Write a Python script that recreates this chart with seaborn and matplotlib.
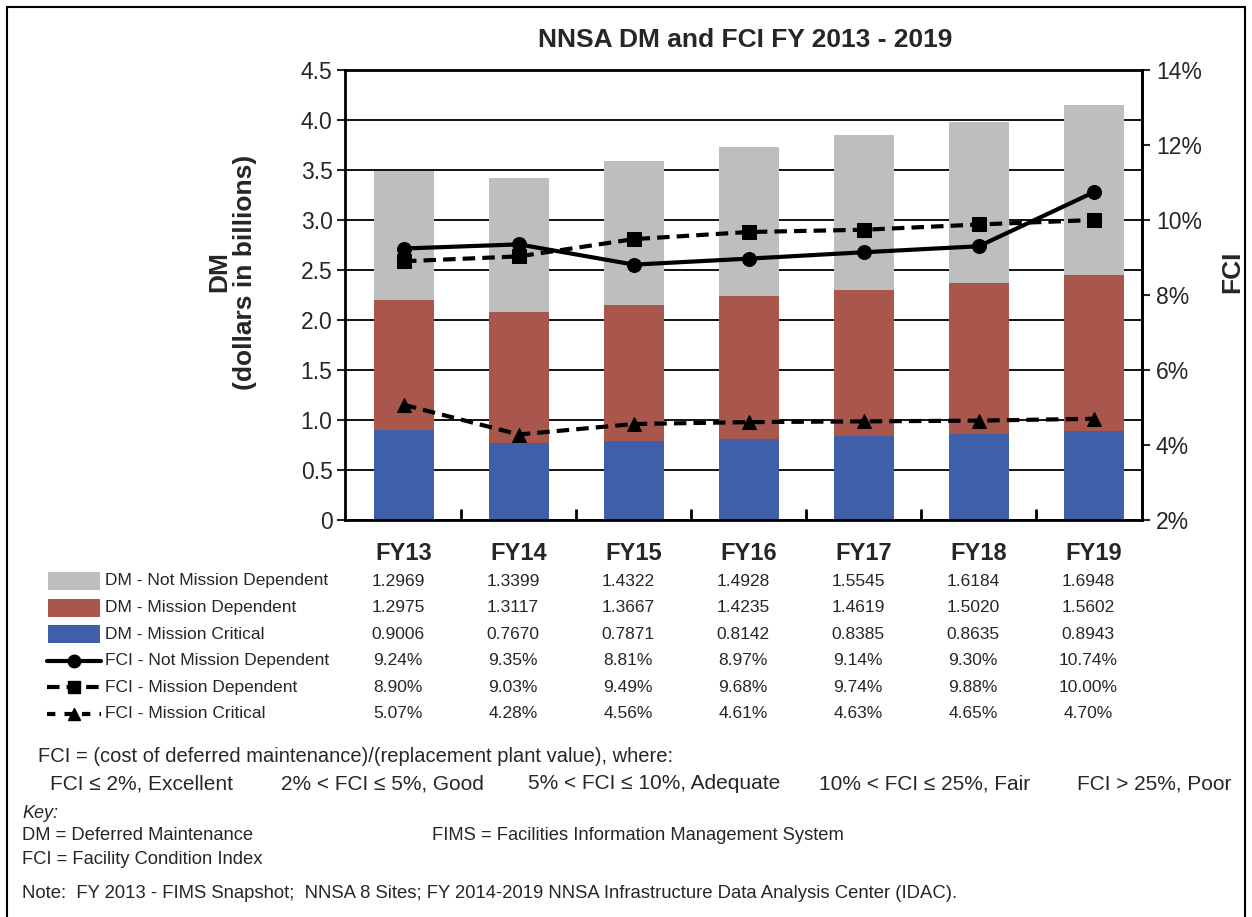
import numpy as np
import pandas as pd
import matplotlib
matplotlib.use("Agg")
import matplotlib.pyplot as plt
import matplotlib.transforms as mtransforms
from matplotlib.lines import Line2D
from matplotlib.patches import Rectangle
import seaborn as sns

# ── Data ─────────────────────────────────────────────────────────────────────
YEARS = ["FY13", "FY14", "FY15", "FY16", "FY17", "FY18", "FY19"]
DM_NOT_MD = [1.2969, 1.3399, 1.4322, 1.4928, 1.5545, 1.6184, 1.6948]
DM_MD = [1.2975, 1.3117, 1.3667, 1.4235, 1.4619, 1.5020, 1.5602]
DM_MC = [0.9006, 0.7670, 0.7871, 0.8142, 0.8385, 0.8635, 0.8943]
FCI_NOT_MD = [9.24, 9.35, 8.81, 8.97, 9.14, 9.30, 10.74]
FCI_MD = [8.90, 9.03, 9.49, 9.68, 9.74, 9.88, 10.00]
FCI_MC = [5.07, 4.28, 4.56, 4.61, 4.63, 4.65, 4.70]

GRAY = "#bcbec0"
RED = "#a9574c"
BLUE = "#3f5fa8"

W, H = 1252, 917
XLIM = (-0.513, 6.42)

sns.set_style("white")
plt.rcParams["font.family"] = ["Liberation Sans", "DejaVu Sans"]

df = pd.DataFrame({"year": YEARS, "mc": DM_MC, "md": DM_MD, "nmd": DM_NOT_MD})
df["h_mc"] = df["mc"]
df["h_md"] = df["mc"] + df["md"]
df["h_all"] = df["mc"] + df["md"] + df["nmd"]

fig = plt.figure(figsize=(W / 100, H / 100), dpi=100)
ax = fig.add_axes([345 / W, 1 - 520 / H, (1142 - 345) / W, 450 / H])

# stacked bars drawn as overlapping cumulative heights
for col, color in [("h_all", GRAY), ("h_md", RED), ("h_mc", BLUE)]:
    sns.barplot(data=df, x="year", y=col, color=color, saturation=1,
                width=0.52, linewidth=0, errorbar=None, ax=ax)

ax.set_xlim(*XLIM)
ax.set_ylim(0, 4.5)
yt = np.arange(0, 4.51, 0.5)
ax.set_yticks(yt)
ax.set_yticklabels(["0" if v == 0 else f"{v:.1f}" for v in yt], fontsize=16.5)
ax.set_axisbelow(True)
ax.yaxis.grid(True, color="black", lw=1.3)
ax.set_xlabel("")
ax.set_ylabel("")
ax.tick_params(axis="y", direction="out", length=6, width=1.5, pad=3, left=True)
ax.tick_params(axis="x", which="major", length=0, pad=16)
# category separators along the bottom axis
ax.set_xticks(np.arange(len(YEARS) - 1) + 0.5, minor=True)
ax.tick_params(axis="x", which="minor", direction="in", length=8, width=2,
               bottom=True, color="black")
for lbl in ax.get_xticklabels():
    lbl.set_fontweight("bold")
    lbl.set_fontsize(17)
for s in ax.spines.values():
    s.set_visible(True)
    s.set_color("black")
    s.set_linewidth(2)

# FCI lines on right axis
ax2 = ax.twinx()
pos = np.arange(len(YEARS))
line_specs = [
    (FCI_NOT_MD, "o", "-", 10),
    (FCI_MD, "s", (0, (3, 1.7)), 9.5),
    (FCI_MC, "^", (0, (3, 1.7)), 10),
]
for vals, mk, ls, ms in line_specs:
    sns.lineplot(x=pos, y=vals, ax=ax2, color="black", lw=3, marker=mk,
                 markersize=ms, markeredgecolor="black", linestyle=ls,
                 legend=False)
ax2.set_ylim(2, 14)
rt = np.arange(2, 14.1, 2)
ax2.set_yticks(rt)
ax2.set_yticklabels([f"{int(v)}%" for v in rt], fontsize=16.5)
ax2.tick_params(axis="y", direction="out", length=6, width=1.5, pad=4, right=True)
ax2.set_ylabel("")
for name, s in ax2.spines.items():
    s.set_visible(name == "right")
    s.set_color("black")
    s.set_linewidth(2)
ax.set_xlim(*XLIM)

# titles / axis labels
fig.text(745 / W, 1 - 40 / H, "NNSA DM and FCI FY 2013 - 2019", ha="center",
         va="center", fontsize=19, fontweight="bold")
fig.text(232 / W, 1 - 272 / H, "DM\n(dollars in billions)", ha="center",
         va="center", rotation=90, fontsize=19, fontweight="bold",
         multialignment="center", linespacing=1.1)
fig.text(1232 / W, 1 - 272 / H, "FCI", ha="center", va="center", rotation=90,
         fontsize=19, fontweight="bold")

# ── Data table under chart ───────────────────────────────────────────────────
trans = mtransforms.blended_transform_factory(ax.transData, fig.transFigure)
rows = [
    ("DM - Not Mission Dependent", DM_NOT_MD, "{:.4f}", ("patch", GRAY)),
    ("DM - Mission Dependent", DM_MD, "{:.4f}", ("patch", RED)),
    ("DM - Mission Critical", DM_MC, "{:.4f}", ("patch", BLUE)),
    ("FCI - Not Mission Dependent", FCI_NOT_MD, "{:.2f}%", ("line", "o", "-")),
    ("FCI - Mission Dependent", FCI_MD, "{:.2f}%", ("line", "s", (0, (3, 1.7)))),
    ("FCI - Mission Critical", FCI_MC, "{:.2f}%", ("line", "^", (0, (2, 2.2)))),
]
row0, step = 581, 26.6
for r, (label, vals, fmt, key) in enumerate(rows):
    yp = row0 + step * r
    yf = 1 - yp / H
    fig.text(105 / W, yf, label, ha="left", va="center", fontsize=12.5)
    for i, v in enumerate(vals):
        ax.text(i - 0.05, yf, fmt.format(v), transform=trans, ha="center",
                va="center", fontsize=12.5)
    if key[0] == "patch":
        fig.patches.append(Rectangle((48 / W, 1 - (yp + 9) / H), 52 / W, 18 / H,
                                     transform=fig.transFigure,
                                     facecolor=key[1], edgecolor="none"))
    else:
        fig.lines.append(Line2D([47 / W, 101 / W], [yf, yf], transform=fig.transFigure,
                                color="black", lw=3, linestyle=key[2]))
        fig.lines.append(Line2D([74 / W], [yf], transform=fig.transFigure,
                                color="black", marker=key[1], markersize=9,
                                linestyle="none"))

# ── Footer notes ─────────────────────────────────────────────────────────────
fig.text(38 / W, 1 - 757 / H,
         "FCI = (cost of deferred maintenance)/(replacement plant value), where:",
         ha="left", va="center", fontsize=14.5)
for x0, txt in [(50, "FCI ≤ 2%, Excellent"), (281, "2% < FCI ≤ 5%, Good"),
                (528, "5% < FCI ≤ 10%, Adequate"), (819, "10% < FCI ≤ 25%, Fair"),
                (1077, "FCI > 25%, Poor")]:
    fig.text(x0 / W, 1 - 789 / H, txt, ha="left", va="baseline", fontsize=15)
fig.text(22 / W, 1 - 813 / H, "Key:", ha="left", va="center", fontsize=13,
         style="italic")
fig.text(22 / W, 1 - 836 / H, "DM = Deferred Maintenance", ha="left",
         va="center", fontsize=13.2)
fig.text(432 / W, 1 - 836 / H, "FIMS = Facilities Information Management System",
         ha="left", va="center", fontsize=13.2)
fig.text(22 / W, 1 - 860 / H, "FCI = Facility Condition Index", ha="left",
         va="center", fontsize=13.2)
fig.text(22 / W, 1 - 893 / H,
         "Note:  FY 2013 - FIMS Snapshot;  NNSA 8 Sites; FY 2014-2019 NNSA "
         "Infrastructure Data Analysis Center (IDAC).",
         ha="left", va="center", fontsize=13.3)

# outer frame (bottom edge falls outside the image)
fig.patches.append(Rectangle((7 / W, -20 / H), (W - 14) / W, (H + 13) / H,
                             transform=fig.transFigure, fill=False,
                             edgecolor="black", lw=1.5))

fig.savefig("out.png", dpi=100)
plt.close(fig)
